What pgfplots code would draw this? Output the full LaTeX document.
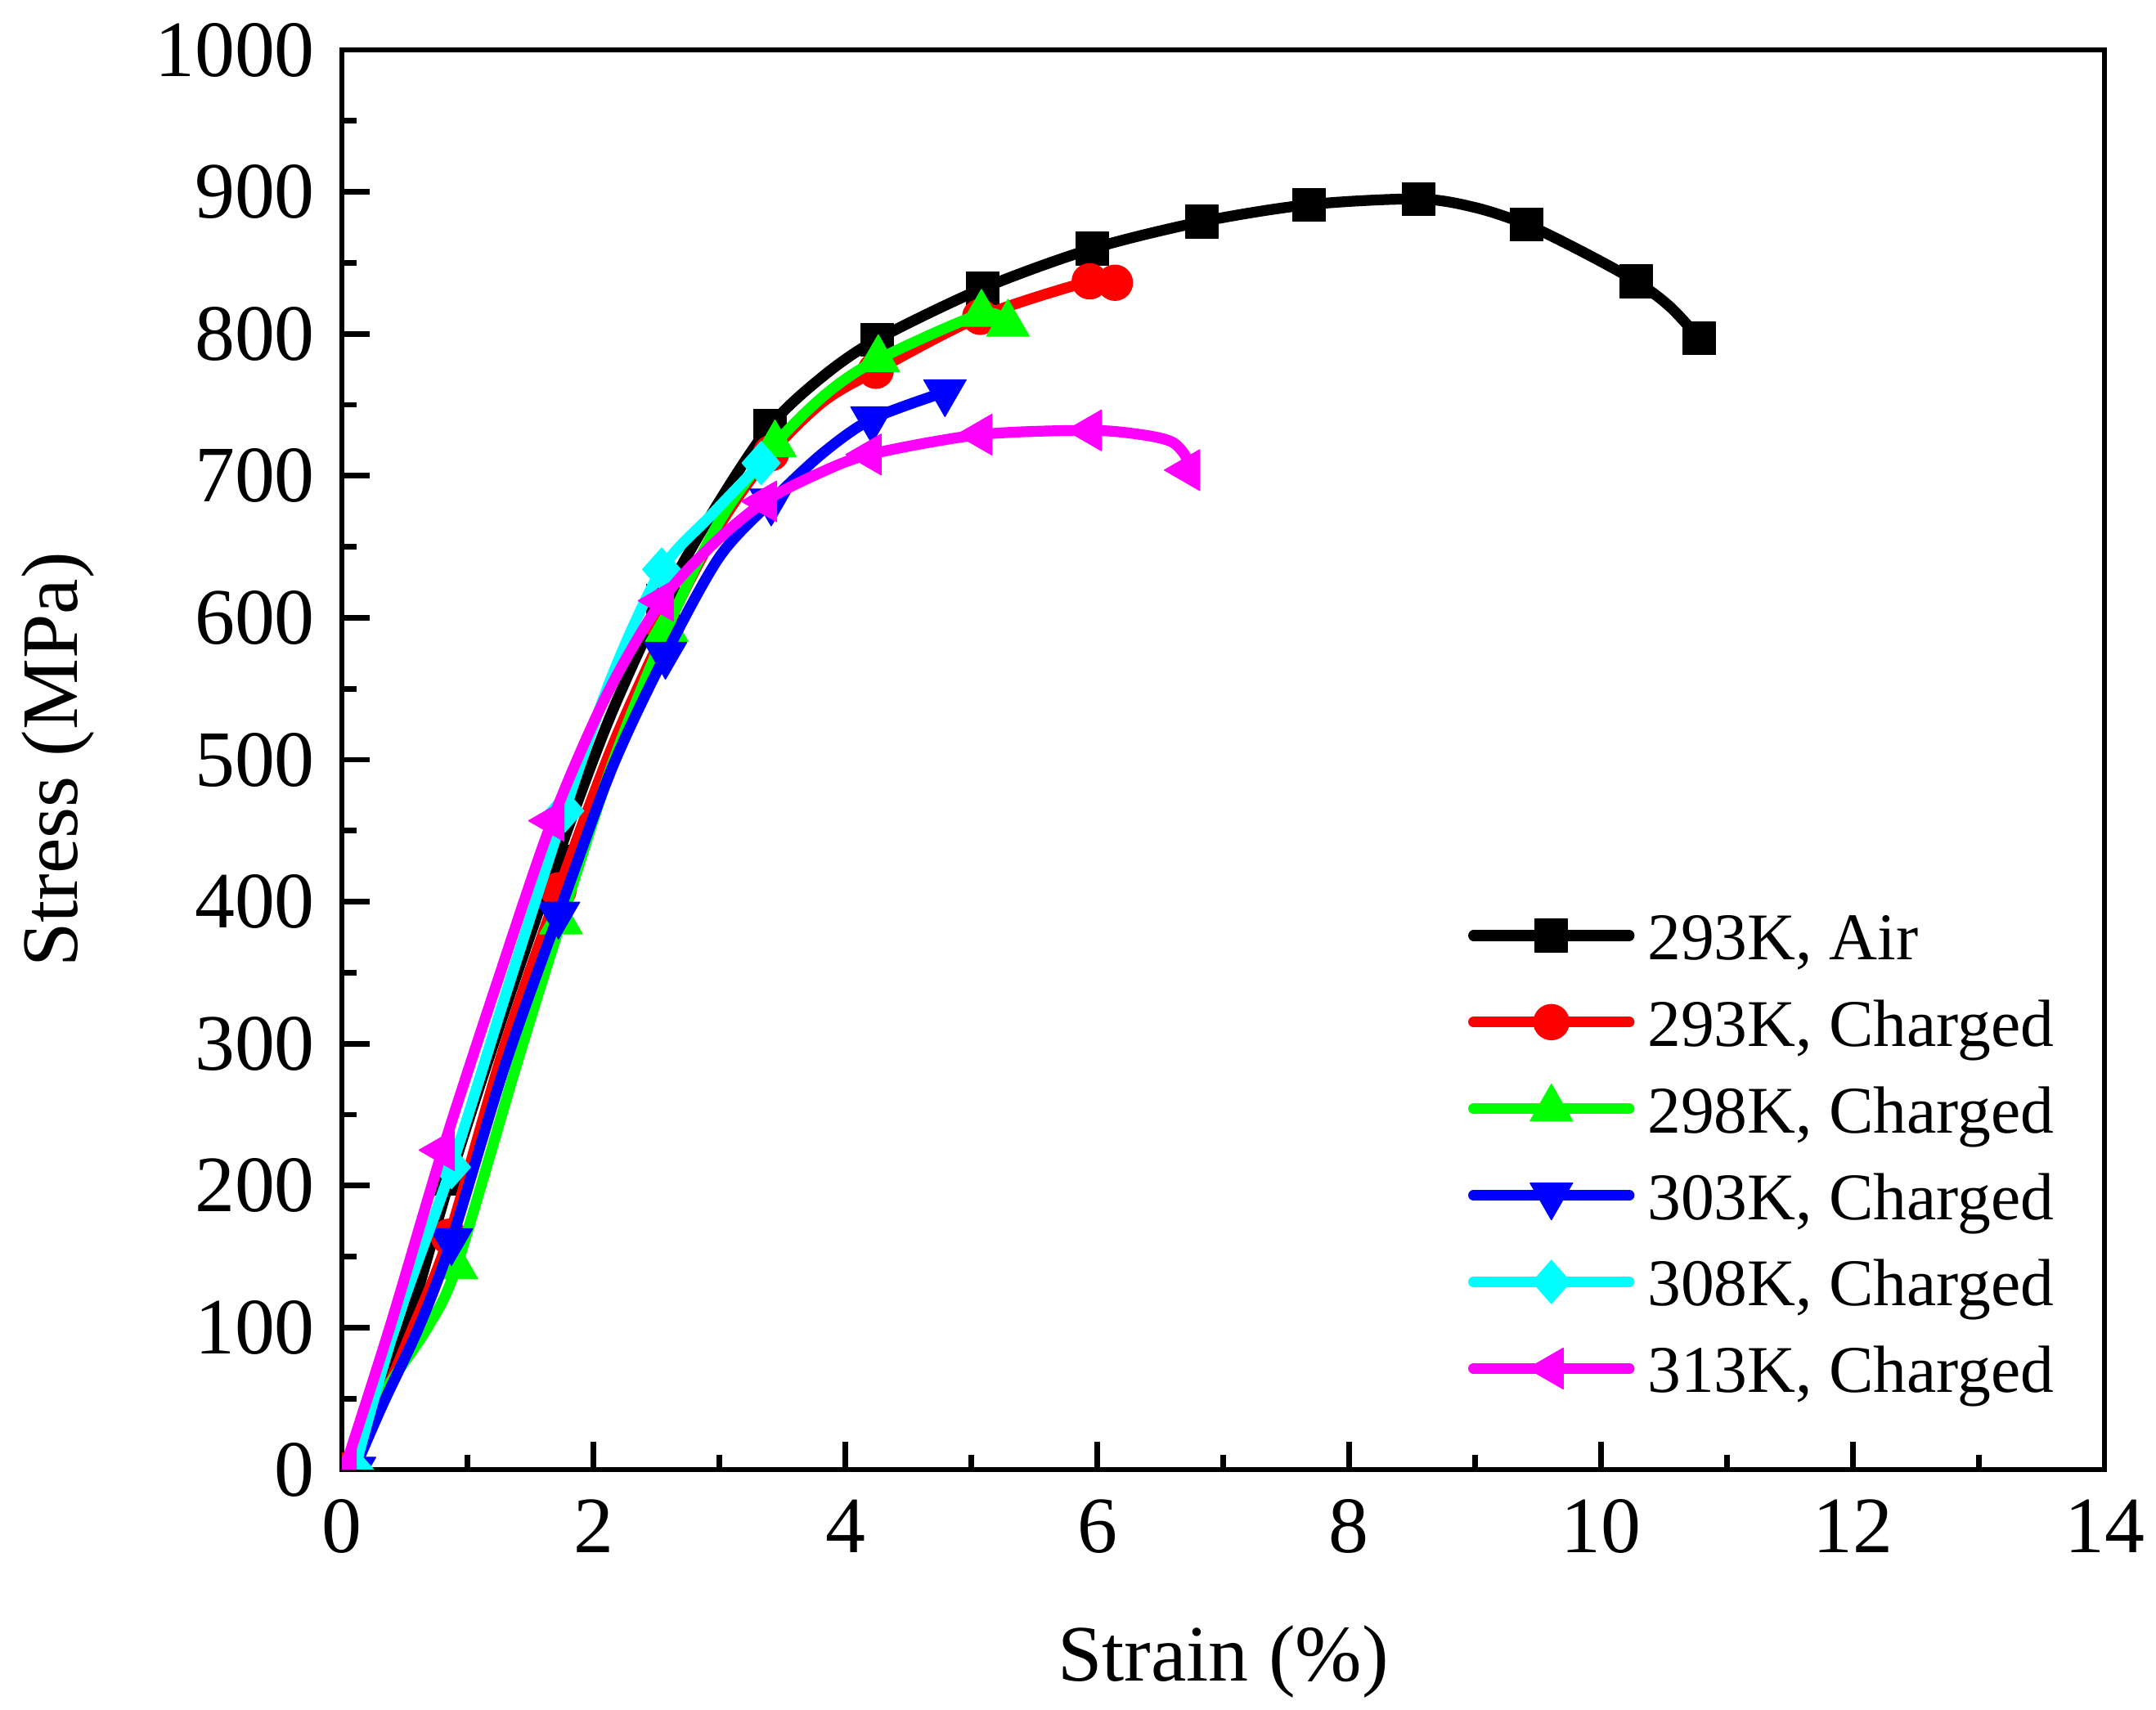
\documentclass[border=0pt]{standalone}
\usepackage{fontspec}
\setmainfont{Liberation Serif}
\usepackage{pgfplots}
\pgfplotsset{compat=1.18}
\definecolor{oR}{RGB}{255,0,0}
\definecolor{oG}{RGB}{0,255,0}
\definecolor{oB}{RGB}{0,0,255}
\definecolor{oC}{RGB}{0,255,255}
\definecolor{oM}{RGB}{255,0,255}
\newcommand\fs{\fontsize{16.3}{19.6}\selectfont}
\newcommand\lfs{\fontsize{13.6}{16.3}\selectfont}
\pgfplotsset{
  sbase/.style={line width=2.2pt, line cap=round, line join=round},
  s1/.style={sbase, black, mark=square*, mark size=3.33pt, mark options={solid, line width=0.2pt}},
  s2/.style={sbase, oR, mark=*, mark size=3.6pt, mark options={solid, line width=0.2pt}},
  s3/.style={sbase, oG, mark=triangle*, mark size=5pt, mark options={solid, line width=0.2pt}},
  s4/.style={sbase, oB, mark=triangle*, mark size=5pt, mark options={solid, line width=0.2pt, rotate=180}},
  s5/.style={sbase, oC, mark=diamond*, mark size=4.4pt, mark options={solid, line width=0.2pt, xscale=1.18}},
  s6/.style={sbase, oM, mark=triangle*, mark size=4.8pt, mark options={solid, line width=0.2pt, rotate=90}},
}
\begin{document}
\begin{tikzpicture}
\begin{axis}[
  scale only axis, width=359.17pt, height=289.33pt,
  xmin=0, xmax=14, ymin=0, ymax=1000,
  xtick={0,2,...,14}, ytick={0,100,...,1000},
  minor x tick num=1, minor y tick num=1,
  tick align=inside, tick pos=left,
  major tick length=5.7pt, minor tick length=3pt,
  every tick/.append style={black, line width=1.15pt},
  axis line style={line width=1.15pt},
  tick label style={font=\fs},
  /pgf/number format/assume math mode=true,
  /pgf/number format/1000 sep={},
  xticklabel style={yshift=-2.6pt},
  yticklabel style={xshift=-2pt},
  label style={font=\fs},
  xlabel={Strain (\%)}, ylabel={Stress (MPa)},
  xlabel style={at={(axis description cs:0.5,-0.1492)}, anchor=base},
  ylabel style={at={(axis description cs:-0.1499,0.5)}, anchor=base},
  clip marker paths=true,
  legend style={draw=none, fill=none, at={(axis description cs:0.639,0.4021)}, anchor=north west,
    inner sep=0pt, outer sep=0pt, row sep=2.65pt, column sep=2.65pt, font=\lfs,
    nodes={inner sep=0pt, text height=12.4pt, text depth=2.6pt}},
  legend cell align=left,
  legend image code/.code={
    \draw[#1, mark=none] (0pt,0pt) -- (31.7pt,0pt);
    \draw[#1] plot coordinates {(15.85pt,0pt)};
  },
]
% 293K, Air
\addplot[s1, smooth, forget plot, mark indices={1,4,6,8,10,12,13,14,15,16,17,19,21,23}] coordinates {
(0.02,0) (0.30,50) (0.55,110) (0.86,205) (1.28,320) (1.70,428) (2.12,528) (2.55,612)
(2.97,678) (3.40,735) (3.82,770) (4.25,796) (5.09,832) (5.96,860) (6.83,879) (7.68,891)
(8.55,895) (9.00,889) (9.41,877) (9.85,858) (10.28,837) (10.55,819) (10.78,797)};
% 293K, Charged
\addplot[s2, smooth, forget plot, mark indices={1,4,6,8,10,12,13,14,15}] coordinates {
(0.05,0) (0.30,45) (0.55,97) (0.85,164) (1.28,295) (1.72,408) (2.15,510) (2.57,592)
(3.00,665) (3.41,716) (3.82,752) (4.24,774) (5.07,812) (5.94,837) (6.14,836)};
% 298K, Charged
\addplot[s3, smooth, forget plot, mark indices={1,5,7,9,11,13,14,15}] coordinates {
(0.06,0) (0.15,15) (0.35,56) (0.68,100) (0.91,143) (1.39,286) (1.74,386) (2.16,500)
(2.58,592) (3.00,668) (3.44,722) (3.85,758) (4.26,782) (5.08,814) (5.29,807)};
% 303K, Charged
\addplot[s4, smooth, forget plot, mark indices={1,4,6,8,10,12,13}] coordinates {
(0.10,0) (0.32,45) (0.61,100) (0.87,161) (1.30,286) (1.72,391) (2.15,495) (2.57,574)
(3.00,643) (3.41,682) (3.82,716) (4.21,740) (4.79,759)};
% 308K, Charged
\addplot[s5, smooth, forget plot, mark indices={1,3,5,7,9}] coordinates {
(0.10,0) (0.42,100) (0.87,213) (1.32,340) (1.77,464) (2.15,560) (2.54,634) (2.93,672) (3.33,709)};
% 313K, Charged
\addplot[s6, smooth, forget plot, mark indices={1,3,5,7,9,11,12,13,17}] coordinates {
(0.02,0) (0.38,100) (0.80,225) (1.24,345) (1.67,457) (2.10,545) (2.54,612) (2.95,652)
(3.36,682) (3.77,701) (4.19,715) (5.07,729) (5.94,732) (6.35,729) (6.59,724) (6.70,714) (6.72,704)};
\addlegendimage{s1}\addlegendentry{293K, Air}
\addlegendimage{s2}\addlegendentry{293K, Charged}
\addlegendimage{s3}\addlegendentry{298K, Charged}
\addlegendimage{s4}\addlegendentry{303K, Charged}
\addlegendimage{s5}\addlegendentry{308K, Charged}
\addlegendimage{s6}\addlegendentry{313K, Charged}
\end{axis}
\pgfresetboundingbox
\path (-69.67pt,-49pt) rectangle (369.67pt,299.5pt);
\end{tikzpicture}
\end{document}
